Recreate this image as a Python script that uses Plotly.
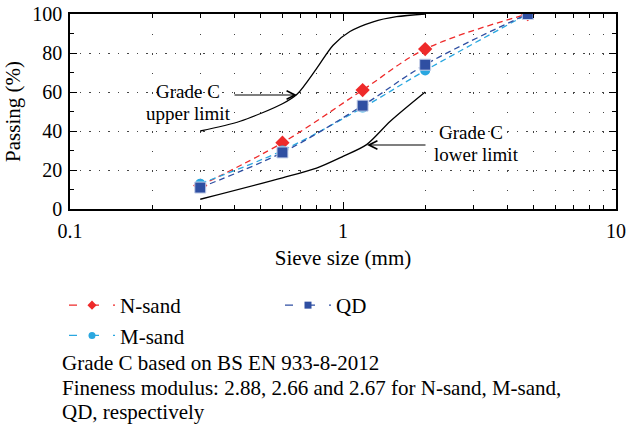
import plotly.graph_objects as go

# ---- data ----
sieve = [0.3, 0.6, 1.18, 2.0, 4.75]
n_sand = [12, 34, 61, 82, 100]
m_sand = [13, 30, 52, 71, 100]
qd = [11, 29, 53, 74, 100]

upper_x = [0.3, 0.42, 0.6, 0.68, 0.8, 0.92, 1.06, 1.29, 1.57, 2.0]
upper_y = [40, 45, 54, 59, 72, 84, 91, 96, 98.6, 100]
lower_x = [0.3, 0.6, 0.8, 1.0, 1.22, 1.49, 2.0]
lower_y = [5, 16, 21, 27, 33, 45, 60]

series_names = ["N-sand", "M-sand", "QD"]
series_colors = ["#ee2a2a", "#2aa7e0", "#2f4fa2"]
series_symbols = ["diamond", "circle", "square"]

FONT = "Liberation Serif"
FS = 21
W, H = 627, 434
ML, MR, MT, MB = 70, 11, 14, 225
PW, PH = W - ML - MR, H - MT - MB

def px(x):
    return (x - ML) / PW

def py(y):
    return (H - MB - y) / PH

fig = go.Figure()

for xs, ys in [(upper_x, upper_y), (lower_x, lower_y)]:
    fig.add_trace(go.Scatter(x=xs, y=ys, mode="lines",
                             line=dict(color="black", width=1.3, shape="spline", smoothing=0.8),
                             showlegend=False, hoverinfo="skip"))

sizes = [11, 10, 11]
for name, ys, col, sym, sz in zip(series_names, [n_sand, m_sand, qd], series_colors, series_symbols, sizes):
    mline = dict(color="#c9d3ea", width=1) if sym == "square" else dict(width=0)
    fig.add_trace(go.Scatter(x=sieve, y=ys, name=name, mode="lines+markers",
                             line=dict(color=col, width=1.3, dash="6px,4px", shape="spline"),
                             marker=dict(symbol=sym, size=sz, color=col, line=mline), showlegend=False))

# legend-only entries (small symbols as in the reference legend)
for name, col, sym in zip(series_names, series_colors, series_symbols):
    fig.add_trace(go.Scatter(x=[None], y=[None], name=name, mode="lines+markers",
                             line=dict(color=col, width=1.3, dash="8px,14px"),
                             marker=dict(symbol=sym, size=7, color=col),
                             legend="legend2" if name == "QD" else "legend"))

tf = dict(family=FONT, size=FS, color="black")
af = dict(family=FONT, size=19, color="black")
annotations = [
    dict(xref="paper", yref="paper", x=px(188), y=py(91), text="Grade C", showarrow=False,
         font=af, xanchor="center", yanchor="middle", borderpad=0),
    dict(xref="paper", yref="paper", x=px(188), y=py(113), text="upper limit", showarrow=False,
         font=af, xanchor="center", yanchor="middle", borderpad=0),
    dict(xref="paper", yref="paper", x=px(471), y=py(132), text="Grade C", showarrow=False,
         font=af, xanchor="center", yanchor="middle", borderpad=0),
    dict(xref="paper", yref="paper", x=px(476), y=py(154), text="lower limit", showarrow=False,
         font=af, xanchor="center", yanchor="middle", borderpad=0),
    dict(xref="paper", yref="paper", x=px(297), y=py(95), ax=-64, ay=0, text="", showarrow=True,
         arrowhead=5, arrowsize=1.4, arrowwidth=1.2, arrowcolor="black"),
    dict(xref="paper", yref="paper", x=px(367), y=py(145), ax=60, ay=0, text="", showarrow=True,
         arrowhead=5, arrowsize=1.4, arrowwidth=1.2, arrowcolor="black"),
    dict(xref="paper", yref="paper", x=px(60), y=py(363), text="Grade C based on BS EN 933-8-2012",
         showarrow=False, font=tf, xanchor="left", yanchor="middle"),
    dict(xref="paper", yref="paper", x=px(60), y=py(388),
         text="Fineness modulus: 2.88, 2.66 and 2.67 for N-sand, M-sand,",
         showarrow=False, font=tf, xanchor="left", yanchor="middle"),
    dict(xref="paper", yref="paper", x=px(60), y=py(412), text="QD, respectively",
         showarrow=False, font=tf, xanchor="left", yanchor="middle"),
]

legend_common = dict(orientation="v", xanchor="left", yanchor="top", bgcolor="rgba(0,0,0,0)",
                     font=tf, itemwidth=46, tracegroupgap=0)

grid = dict(gridcolor="#444", gridwidth=1)
tkf = dict(family=FONT, size=20, color="black")

fig.update_layout(
    width=W, height=H,
    margin=dict(l=ML, r=MR, t=MT, b=MB, autoexpand=False),
    paper_bgcolor="white", plot_bgcolor="white",
    font=tf,
    showlegend=True,
    legend=dict(x=px(64), y=py(285), **legend_common),
    legend2=dict(x=px(280), y=py(285), **legend_common),
    annotations=annotations,
    xaxis=dict(type="log", range=[-1, 1], tickvals=[0.1, 1, 10], ticktext=["0.1", "1", "10"],
               ticks="inside", ticklen=7, tickcolor="black", tickwidth=1, ticklabelstandoff=3,
               showline=True, linecolor="black", linewidth=1.5, mirror="ticks",
               showgrid=True, griddash="1.5px,18px", **grid,
               minor=dict(tickvals=[0.2, 0.3, 0.4, 0.5, 0.6, 0.7, 0.8, 0.9, 2, 3, 4, 5, 6, 7, 8, 9],
                          ticks="inside", ticklen=4, tickcolor="black", showgrid=True,
                          griddash="1.5px,18px", **grid),
               title=dict(text="Sieve size (mm)", standoff=10, font=tf),
               tickfont=tkf, zeroline=False),
    yaxis=dict(range=[0, 100], tickvals=[0, 20, 40, 60, 80, 100],
               ticks="inside", ticklen=7, tickcolor="black", tickwidth=1, ticklabelstandoff=2,
               showline=True, linecolor="black", linewidth=1.5, mirror="ticks",
               showgrid=True, griddash="1.5px,8px", **grid,
               minor=dict(tickvals=[10, 30, 50, 70, 90], ticks="inside", ticklen=4, tickcolor="black", showgrid=False),
               title=dict(text="Passing (%)", standoff=6, font=tf),
               tickfont=tkf, zeroline=False),
)

fig.write_html("out.html")
